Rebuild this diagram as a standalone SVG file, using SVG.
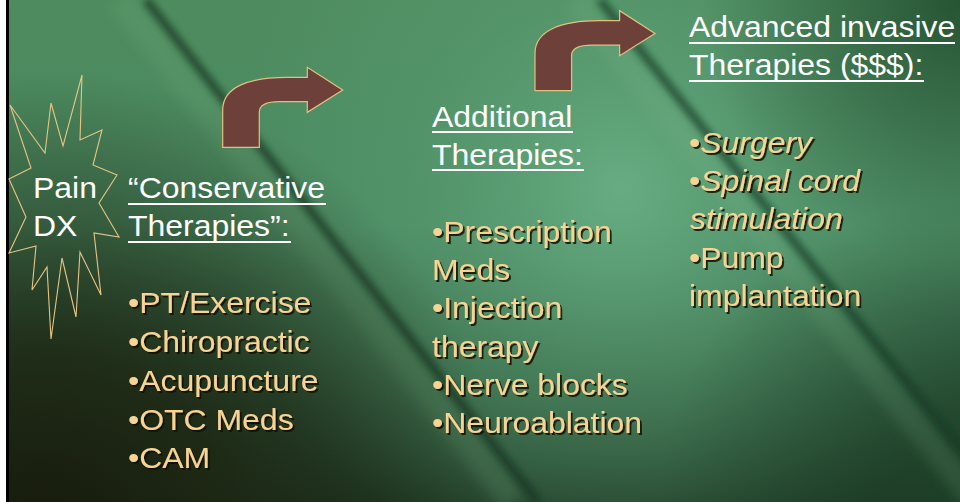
<svg xmlns="http://www.w3.org/2000/svg" width="960" height="502" viewBox="0 0 960 502">
  <defs>
    <style>
      .head { font-family: "Liberation Sans", Arial, sans-serif; font-size: 30px; fill: #ffffff; }
      .item { font-family: "Liberation Sans", Arial, sans-serif; font-size: 30px; fill: #f8d494; }
      .em { font-style: italic; }
      .uline { stroke: #ffffff; stroke-width: 2; }
      .burst { fill: none; stroke: #e8c585; stroke-width: 1.1; stroke-linejoin: miter; }
      .bend { fill: #6e403a; stroke: #e2c083; stroke-width: 1.2; stroke-linejoin: miter; }
      .shadowed { filter: url(#drop); }
    </style>
    <linearGradient id="bgBase" x1="0" y1="0" x2="0" y2="1">
      <stop offset="0" stop-color="#4e8c5e"/>
      <stop offset="0.45" stop-color="#4a8a62"/>
      <stop offset="1" stop-color="#1f3b26"/>
    </linearGradient>
    <radialGradient id="glow" cx="620" cy="190" r="400" gradientUnits="userSpaceOnUse">
      <stop offset="0" stop-color="#68ae84" stop-opacity="0.95"/>
      <stop offset="0.5" stop-color="#5a9c72" stop-opacity="0.5"/>
      <stop offset="1" stop-color="#5a9c72" stop-opacity="0"/>
    </radialGradient>
    <radialGradient id="shade" cx="40" cy="540" r="470" gradientUnits="userSpaceOnUse">
      <stop offset="0" stop-color="#171a0b" stop-opacity="1"/>
      <stop offset="0.4" stop-color="#1c2411" stop-opacity="0.85"/>
      <stop offset="1" stop-color="#1c2411" stop-opacity="0"/>
    </radialGradient>
    <radialGradient id="cornerTR" cx="960" cy="0" r="260" gradientUnits="userSpaceOnUse">
      <stop offset="0" stop-color="#1d4629" stop-opacity="0.8"/>
      <stop offset="1" stop-color="#1d4629" stop-opacity="0"/>
    </radialGradient>
    <radialGradient id="cornerBR" cx="960" cy="502" r="300" gradientUnits="userSpaceOnUse">
      <stop offset="0" stop-color="#1d3f27" stop-opacity="0.8"/>
      <stop offset="1" stop-color="#1d3f27" stop-opacity="0"/>
    </radialGradient>
    <filter id="soft" x="-20%" y="-20%" width="140%" height="140%">
      <feGaussianBlur stdDeviation="6"/>
    </filter>
    <filter id="softer" x="-20%" y="-20%" width="140%" height="140%">
      <feGaussianBlur stdDeviation="3"/>
    </filter>
    <filter id="drop" x="-10%" y="-30%" width="130%" height="160%">
      <feDropShadow dx="1.8" dy="2" stdDeviation="0.5" flood-color="#0d0d05" flood-opacity="0.85"/>
    </filter>
    <!-- bent arrow, origin at the foot of its left edge -->
    <path id="bentArrow" class="bend" d="M0,0 L0,-37.3 C0,-60.6 27.3,-70 64,-70 L84.6,-70 L84.6,-80 L120,-57.3 L84.6,-35 L84.6,-45.6 L57.3,-45.6 C45.3,-45.6 36.6,-43.3 36.6,-35.3 L36.6,0 Z"/>
  </defs>

  <!-- backdrop -->
  <g id="backdrop">
    <rect x="0" y="0" width="960" height="502" fill="url(#bgBase)"/>
    <rect x="0" y="0" width="960" height="502" fill="url(#glow)"/>
    <rect x="0" y="0" width="960" height="502" fill="url(#cornerTR)"/>
    <rect x="0" y="0" width="960" height="502" fill="url(#cornerBR)"/>
    <!-- diagonal folds: a pale band beside a dark crease -->
    <line x1="120" y1="0" x2="512" y2="502" stroke="#7ab080" stroke-width="26" stroke-opacity="0.18" filter="url(#soft)"/>
    <line x1="146" y1="0" x2="538" y2="502" stroke="#17331c" stroke-width="9" stroke-opacity="0.65" filter="url(#softer)"/>
    <line x1="575" y1="0" x2="978" y2="502" stroke="#80bb92" stroke-width="26" stroke-opacity="0.16" filter="url(#soft)"/>
    <line x1="600" y1="0" x2="1003" y2="502" stroke="#173a22" stroke-width="9" stroke-opacity="0.65" filter="url(#softer)"/>
    <rect x="0" y="0" width="960" height="502" fill="url(#shade)"/>
    <rect x="0" y="0" width="6" height="502" fill="#ffffff"/>
    <rect x="6" y="0" width="3" height="502" fill="#000000"/>
  </g>

  <!-- bent arrows leading from one stage to the next -->
  <g id="connectors">
    <use href="#bentArrow" transform="translate(222.7,147.3)"/>
    <use href="#bentArrow" transform="translate(535,90.7)"/>
  </g>

  <!-- starburst with diagnosis label -->
  <g id="pain-dx">
    <polygon class="burst" points="10,105 45,153 51,103 63,146 82,75 80,140 102,130 93,165 117,175 99,203 119,237 94,233 101,295 80,252 76,317 62,258 51,339 47,267 32,290 36,246 9,253 26,217 9,179 31,168"/>
    <g transform="translate(33,0) scale(1.065,1)">
      <text class="head" x="0" y="198">Pain</text>
      <text class="head" x="0" y="236">DX</text>
    </g>
  </g>

  <!-- stage 1 -->
  <g id="conservative">
    <g transform="translate(128,0) scale(1.065,1)">
      <text class="head" x="0" y="198">“Conservative</text>
      <text class="head" x="0" y="236">Therapies”:</text>
      <g class="shadowed">
        <text class="item" x="0" y="313">•PT/Exercise</text>
        <text class="item" x="0" y="352">•Chiropractic</text>
        <text class="item" x="0" y="391">•Acupuncture</text>
        <text class="item" x="0" y="430">•OTC Meds</text>
        <text class="item" x="0" y="468">•CAM</text>
      </g>
    </g>
    <line class="uline" x1="128" y1="204" x2="326" y2="204"/>
    <line class="uline" x1="128" y1="242" x2="291" y2="242"/>
  </g>

  <!-- stage 2 -->
  <g id="additional">
    <g transform="translate(432,0) scale(1.065,1)">
      <text class="head" x="0" y="127">Additional</text>
      <text class="head" x="0" y="165">Therapies:</text>
      <g class="shadowed">
        <text class="item" x="0" y="242">•Prescription</text>
        <text class="item" x="0" y="280">Meds</text>
        <text class="item" x="0" y="318">•Injection</text>
        <text class="item" x="0" y="357">therapy</text>
        <text class="item" x="0" y="395">•Nerve blocks</text>
        <text class="item" x="0" y="433">•Neuroablation</text>
      </g>
    </g>
    <line class="uline" x1="432" y1="132" x2="573" y2="132"/>
    <line class="uline" x1="432" y1="170" x2="584" y2="170"/>
  </g>

  <!-- stage 3 -->
  <g id="advanced">
    <g transform="translate(689,0) scale(1.065,1)">
      <text class="head" x="0" y="37">Advanced invasive</text>
      <text class="head" x="0" y="75">Therapies ($$$):</text>
      <g class="shadowed">
        <text class="item" x="0" y="153">•<tspan class="em">Surgery</tspan></text>
        <text class="item" x="0" y="191">•<tspan class="em">Spinal cord</tspan></text>
        <text class="item em" x="1" y="229">stimulation</text>
        <text class="item" x="0" y="268">•Pump</text>
        <text class="item" x="0" y="306">implantation</text>
      </g>
    </g>
    <line class="uline" x1="689" y1="43" x2="955" y2="43"/>
    <line class="uline" x1="689" y1="81" x2="924" y2="81"/>
  </g>
</svg>
